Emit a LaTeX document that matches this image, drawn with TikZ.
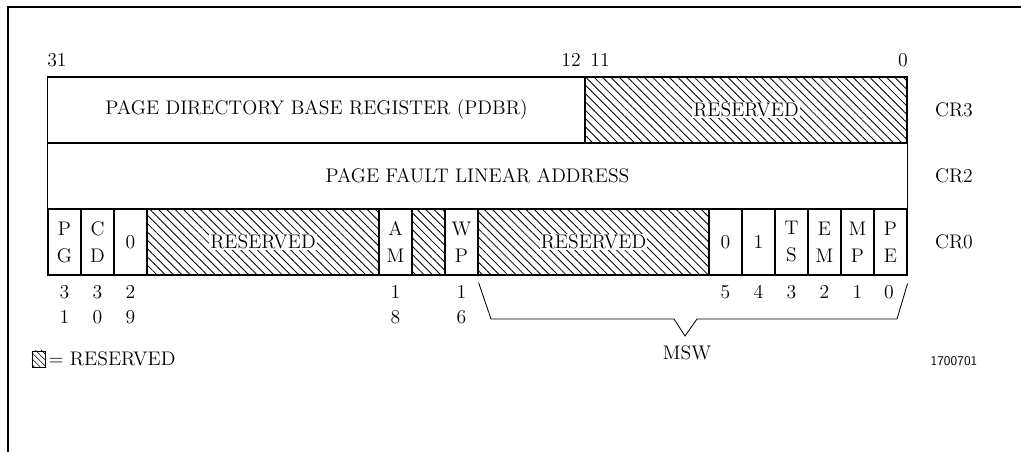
\documentclass[tikz,border=0pt]{standalone}
\usepackage{tikz}
\usetikzlibrary{patterns.meta}

\begin{document}
\begin{tikzpicture}[
        x=0.025cm, y=-0.025cm,
        every node/.style={font=\fontsize{14}{19.2}\selectfont},
        field/.style={
            draw,
            line width=0.8pt,
            minimum height=1.65cm,
            inner sep=0pt,
            align=center
        },
        bit/.style={field, minimum width=0.825cm},
        resv/.style={
            field,
            pattern={Lines[angle=-45,distance=4.2pt,line width=0.6pt]}
        },
        tag/.style={fill=white, inner sep=0.6pt},
        num/.style={align=center, inner sep=0pt, font=\fontsize{14}{17.8}\selectfont},
        brace/.style={line width=0.6pt}
    ]

    \useasboundingbox (0,0) rectangle (1021,452);

    % Frame
    \draw[line width=1pt] (8,452) -- (8,7) -- (1021,7);

    % Bit positions on top
    \node (t31) at (57,60) {31};
    \node (t12) at (571,60) {12};
    \node (t11) at (600,60) {11};
    \node (t0)  at (903,60) {0};

    % CR3
    \node[field, minimum width=13.425cm] (pdbr) at (316.5,110) {PAGE DIRECTORY BASE REGISTER (PDBR)};
    \node[resv, minimum width=8.05cm] (res3) at (746,110) {};
    \node[tag] (res3t) at (res3) {RESERVED};

    % CR2
    \node[field, minimum width=21.475cm] (pfla) at (477.5,176) {PAGE FAULT LINEAR ADDRESS};

    % CR0
    \node[bit] (pg)  at (64.5,242)  {P\\G};
    \node[bit] (cd)  at (97.5,242)  {C\\D};
    \node[bit] (z29) at (130.5,242) {0};
    \node[resv, minimum width=5.8cm] (resa) at (263,242) {};
    \node[tag] (resat) at (resa) {RESERVED};
    \node[bit] (am)  at (395.5,242) {A\\M};
    \node[resv, minimum width=0.825cm] (resb) at (428.5,242) {};
    \node[bit] (wp)  at (461.5,242) {W\\P};
    \node[resv, minimum width=5.775cm] (resc) at (593.5,242) {};
    \node[tag] (resct) at (resc) {RESERVED};
    \node[bit] (b5)  at (725.5,242) {0};
    \node[bit] (b4)  at (758.5,242) {1};
    \node[bit] (ts)  at (791.5,242) {T\\S};
    \node[bit] (em)  at (824.5,242) {E\\M};
    \node[bit] (mp)  at (857.5,242) {M\\P};
    \node[bit] (pe)  at (890.5,242) {P\\E};

    % Register names
    \node (cr3) at (954,110) {CR3};
    \node (cr2) at (954,176) {CR2};
    \node (cr0) at (954,242) {CR0};

    % Bit numbers below CR0
    \node[num] (n31) at (64.5,304.5)  {3\\1};
    \node[num] (n30) at (97.5,304.5)  {3\\0};
    \node[num] (n29) at (130.5,304.5) {2\\9};
    \node[num] (n18) at (395.5,304.5) {1\\8};
    \node[num] (n16) at (461.5,304.5) {1\\6};
    \node[num] (n5)  at (725.5,292) {5};
    \node[num] (n4)  at (758.5,292) {4};
    \node[num] (n3)  at (791.5,292) {3};
    \node[num] (n2)  at (824.5,292) {2};
    \node[num] (n1)  at (857.5,292) {1};
    \node[num] (n0)  at (889,292)   {0};

    % MSW brace
    \coordinate (tip) at (685,336);
    \draw[brace] ([yshift=-0.175cm]wp.south east) -- (491,319) -- (674,319)
        -- (tip) -- (697,319) -- (897,319) -- ([yshift=-0.2cm]pe.south east);
    \node (msw) at (687,353) {MSW};

    % Legend
    \node[draw, line width=0.5pt, inner sep=0pt, minimum width=0.325cm, minimum height=0.4cm,
        pattern={Lines[angle=-45,distance=3pt,line width=0.45pt]}] (key) at (38.5,359) {};
    \node[anchor=west, inner sep=0pt] (keyt) at ([xshift=0.075cm]key.east) {= RESERVED};

    % Figure number
    \node[font=\sffamily\fontsize{9.5}{11}\selectfont] (fig) at (954,361) {1700701};

\end{tikzpicture}
\end{document}
